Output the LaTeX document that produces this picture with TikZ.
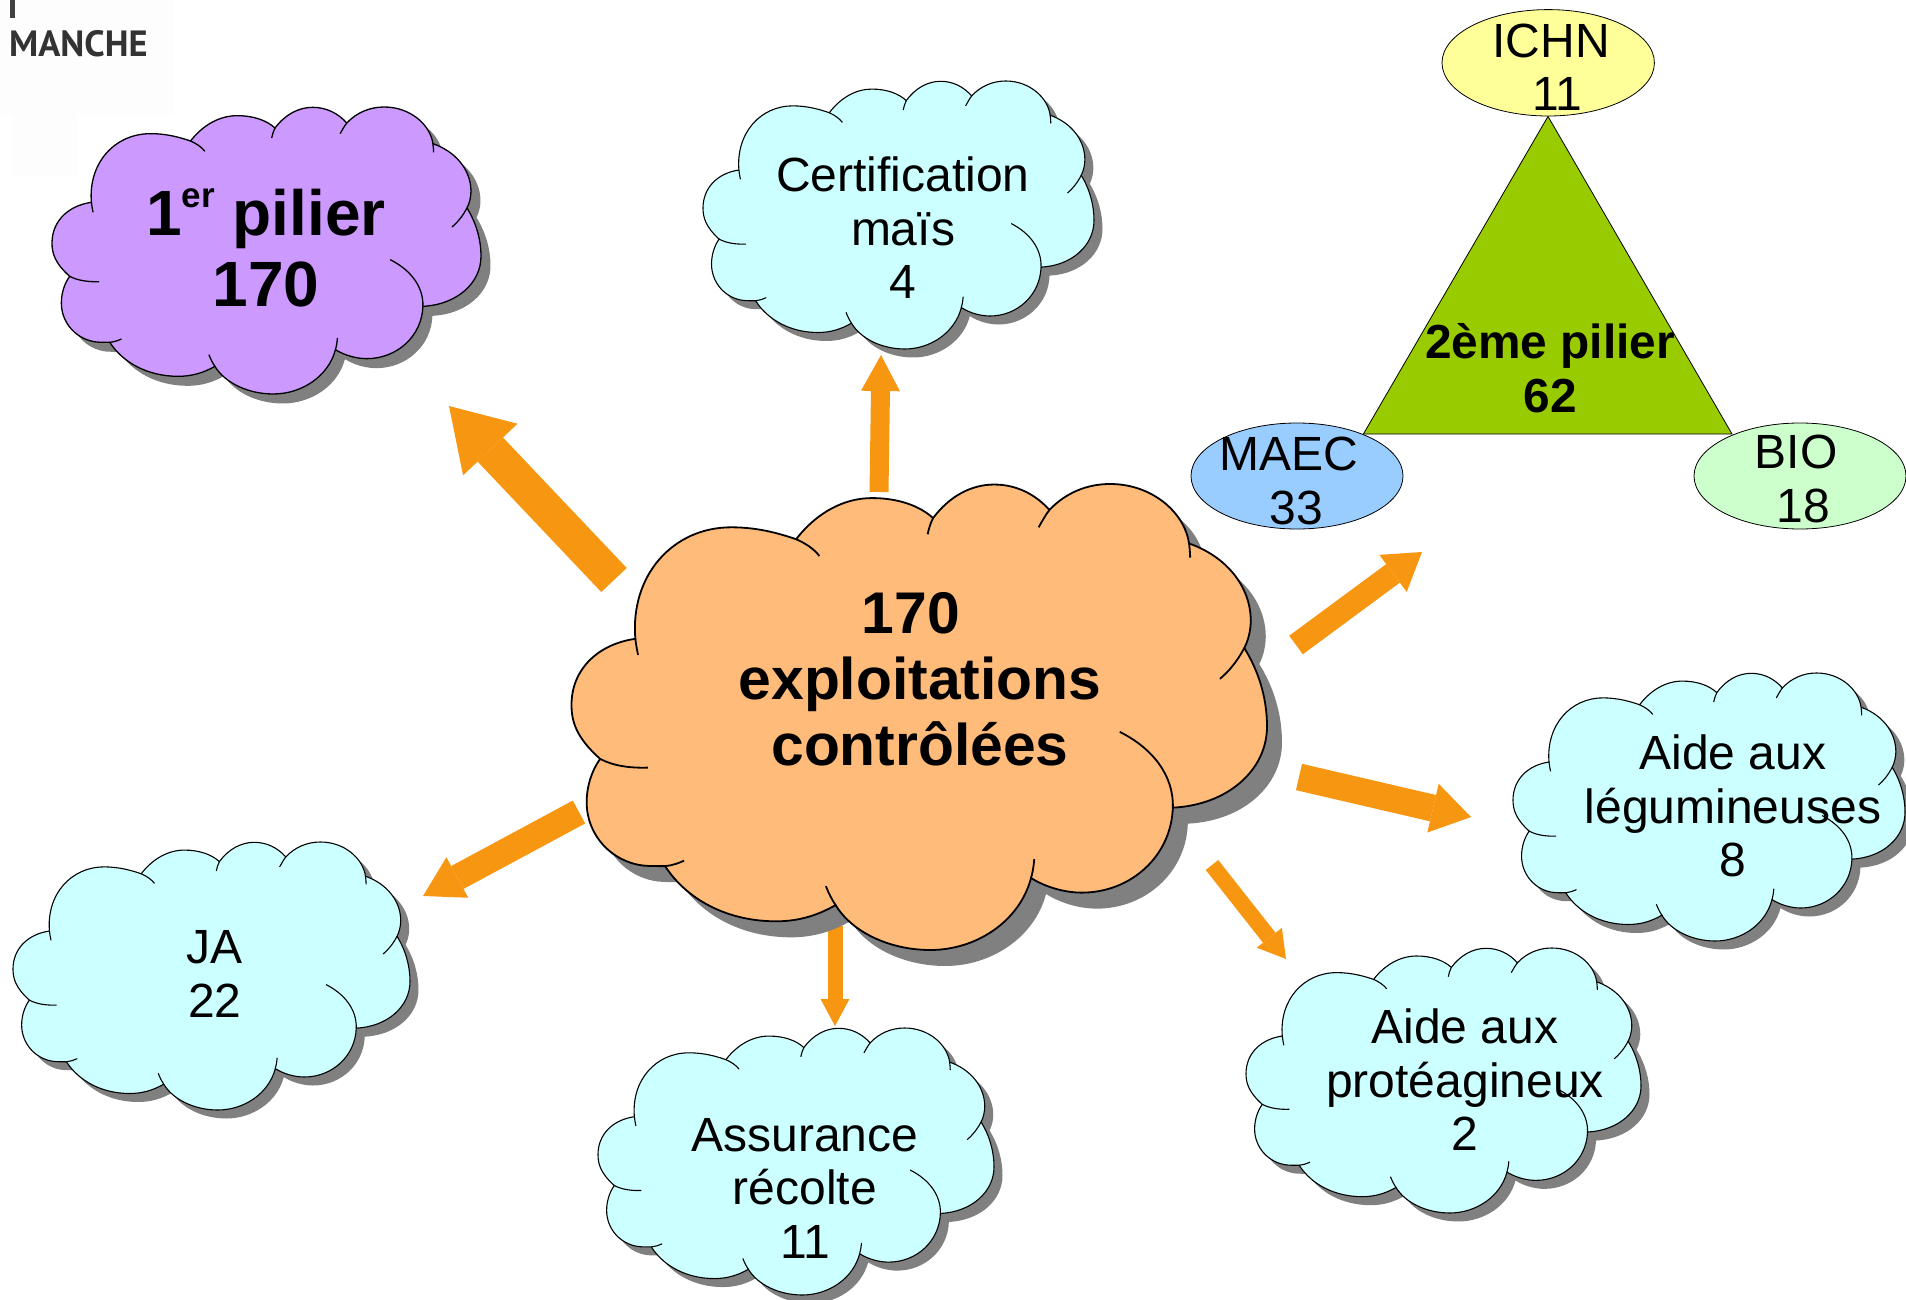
\documentclass[tikz,border=0pt]{standalone}
\usepackage{fontspec}
\setmainfont{Liberation Sans}
\newfontfamily\logofont{PT Sans}
\usetikzlibrary{arrows.meta}
\definecolor{arrowc}{HTML}{F79610}
\definecolor{shadowc}{HTML}{808080}
\definecolor{cyanc}{HTML}{CCFFFF}
\definecolor{purplec}{HTML}{CC99FF}
\definecolor{orangec}{HTML}{FFBB7A}
\definecolor{greenc}{HTML}{99CC00}
\definecolor{yellowc}{HTML}{FFFF99}
\definecolor{bluec}{HTML}{99CCFF}
\definecolor{mintc}{HTML}{CCFFCC}
\tikzset{
  txt/.style={align=center,inner sep=0pt,font=\fontsize{48}{53.5}\selectfont},
  txtb/.style={align=center,inner sep=0pt,font=\fontsize{47.8}{53.5}\selectfont\bfseries},
  txtc/.style={align=center,inner sep=0pt,font=\fontsize{58.8}{66}\selectfont\bfseries},
  txtp/.style={align=center,inner sep=0pt,font=\fontsize{64}{71}\selectfont\bfseries},
  oval/.style={draw=black,line width=.8pt},
  blockarrow/.style n args={3}{draw=arrowc,line width=#1pt,
    -{Triangle[length=#3pt,width=#2pt,line width=0pt,fill=arrowc]}},
}
\newcommand{\cloudoutline}{(210,830) .. controls (165,790) and (157,760) .. (157,730) .. controls (157,665) and (205,618) .. (275,608)
 .. controls (265,490) and (345,402) .. (452,402) .. controls (505,402) and (545,415) .. (572,424)
 .. controls (610,375) and (660,348) .. (712,348) .. controls (760,348) and (800,362) .. (825,385)
 .. controls (855,345) and (895,323) .. (938,323) .. controls (980,323) and (1015,342) .. (1040,370)
 .. controls (1070,338) and (1110,322) .. (1152,322) .. controls (1230,322) and (1290,375) .. (1298,432)
 .. controls (1365,455) and (1412,510) .. (1412,575) .. controls (1412,590) and (1408,610) .. (1400,625)
 .. controls (1428,670) and (1442,720) .. (1442,770) .. controls (1442,850) and (1370,915) .. (1268,920)
 .. controls (1265,1010) and (1190,1077) .. (1100,1077) .. controls (1070,1077) and (1035,1068) .. (1006,1050)
 .. controls (985,1130) and (905,1183) .. (820,1183) .. controls (745,1183) and (675,1150) .. (645,1100)
 .. controls (610,1120) and (575,1130) .. (535,1130) .. controls (445,1130) and (370,1090) .. (330,1028)
 .. controls (315,1028) and (300,1028) .. (290,1027) .. controls (230,1020) and (185,970) .. (185,910)
 .. controls (185,880) and (195,850) .. (210,830) -- cycle}
\newcommand{\cloudstubs}{(210,830) .. controls (235,843) and (265,847) .. (298,846)
 (275,608) .. controls (276,618) and (278,628) .. (280,638)
 (572,424) .. controls (590,432) and (605,442) .. (615,455)
 (825,385) .. controls (820,395) and (817,405) .. (815,415)
 (1040,370) .. controls (1032,380) and (1026,392) .. (1020,402)
 (1298,432) .. controls (1299,440) and (1300,450) .. (1300,458)
 (1400,625) .. controls (1388,648) and (1372,668) .. (1355,682)
 (1268,920) .. controls (1270,860) and (1230,810) .. (1170,780)
 (1006,1050) .. controls (1009,1040) and (1011,1028) .. (1012,1015)
 (645,1100) .. controls (638,1090) and (632,1078) .. (627,1065)
 (330,1028) .. controls (342,1027) and (354,1023) .. (365,1018)}
% x0 y0 x1 y1 fill shadowdx shadowdy linewidth
\newcommand{\cloudat}[8]{%
  \pgfmathsetmacro{\csx}{(#3-#1)/1285}%
  \pgfmathsetmacro{\csy}{(#4-#2)/861}%
  \begin{scope}[shift={(#1+#6,#2+#7)},xscale=\csx,yscale=\csy,shift={(-157,-322)}]
    \fill[shadowc] \cloudoutline;
  \end{scope}
  \begin{scope}[shift={(#1,#2)},xscale=\csx,yscale=\csy,shift={(-157,-322)}]
    \filldraw[fill=#5,draw=black,line width=#8pt] \cloudoutline;
    \draw[black,line width=#8pt] \cloudstubs;
  \end{scope}}
\begin{document}
\begin{tikzpicture}[x=1pt,y=-1pt]
\useasboundingbox (0,0) rectangle (1906,1300);
% logo
\fill[black!.8] (0,0) rectangle (173,115);
\fill[black!.8] (12,115) rectangle (78,175);
\fill[black!75] (10,0) rectangle (14.5,18);
\node[anchor=base west,inner sep=0pt,text=black!80,font=\fontsize{36.5}{36.5}\selectfont\logofont\bfseries] (logo) at (9,57) {MANCHE};
% connector ends
\coordinate (a1s) at (614,580); \coordinate (a1e) at (449,406);
\coordinate (a2s) at (879,492); \coordinate (a2e) at (881,355);
\coordinate (a3s) at (1296,645); \coordinate (a3e) at (1422,552);
\coordinate (a4s) at (1299,777); \coordinate (a4e) at (1471,817);
\coordinate (a5s) at (1212,865); \coordinate (a5e) at (1286,959);
\coordinate (a6s) at (835,926); \coordinate (a6e) at (835,1026);
\coordinate (a7s) at (579,812); \coordinate (a7e) at (423,896);
\draw[blockarrow={35}{75}{60}] (a1s) -- (a1e);
\draw[blockarrow={19}{39}{36}] (a2s) -- (a2e);
\draw[blockarrow={23}{46}{36}] (a3s) -- (a3e);
\draw[blockarrow={27}{50}{39}] (a4s) -- (a4e);
\draw[blockarrow={16}{32}{27}] (a5s) -- (a5e);
\draw[blockarrow={15}{29}{27}] (a6s) -- (a6e);
\draw[blockarrow={26}{46}{39}] (a7s) -- (a7e);
% clouds
\cloudat{52}{107}{481}{394}{purplec}{9.5}{9.5}{1.3}
\cloudat{703}{81}{1094}{349}{cyanc}{8.5}{8.5}{1.1}
\cloudat{1513}{673}{1905}{941}{cyanc}{8.5}{8.5}{1.1}
\cloudat{13}{842}{410}{1110}{cyanc}{8.5}{8.5}{1.1}
\cloudat{598}{1028}{994}{1295}{cyanc}{8.5}{8.5}{1.1}
\cloudat{1246}{948}{1641}{1213}{cyanc}{8.5}{8.5}{1.1}
\cloudat{571.5}{484}{1267}{950}{orangec}{15}{16}{1.8}
% triangle
\coordinate (tApex) at (1548,116.4);
\coordinate (tLeft) at (1363.4,434);
\coordinate (tRight) at (1732,434);
\filldraw[fill=greenc,draw=black,line width=.8pt] (tApex) -- (tLeft) -- (tRight) -- cycle;
% ellipses
\filldraw[fill=yellowc,oval] (1548.2,62.8) ellipse [x radius=106.2,y radius=53.2];
\filldraw[fill=bluec,oval] (1297,476) ellipse [x radius=106,y radius=53];
\filldraw[fill=mintc,oval] (1800,476) ellipse [x radius=106,y radius=53];
% texts
\node[txtp] (tpurple) at (266,247.5) {1{\fontsize{35}{35}\selectfont\raisebox{28pt}{er}} pilier\\170};
\node[txtc] (tcenter) at (920,679) {\hspace*{-18pt}170\\exploitations\\contrôlées};
\node[txt] (tcert) at (903,228) {Certification\\maïs\\4};
\node[txt] (tleg) at (1733,806) {Aide aux\\légumineuses\\8};
\node[txt] (tja) at (215,974) {JA\\22};
\node[txt] (tass) at (805,1188) {Assurance\\récolte\\11};
\node[txt] (tpro) at (1465,1080) {Aide aux\\protéagineux\\2};
\node[txtb] (ttri) at (1550,368) {2ème pilier\\62};
\node[txt] (tichn) at (1551,67) {ICHN\\\hspace*{13pt}11};
\node[txt] (tmaec) at (1289,481) {MAEC\\\hspace*{14pt}33};
\node[txt] (tbio) at (1796,479) {BIO\\\hspace*{14pt}18};
\end{tikzpicture}
\end{document}
